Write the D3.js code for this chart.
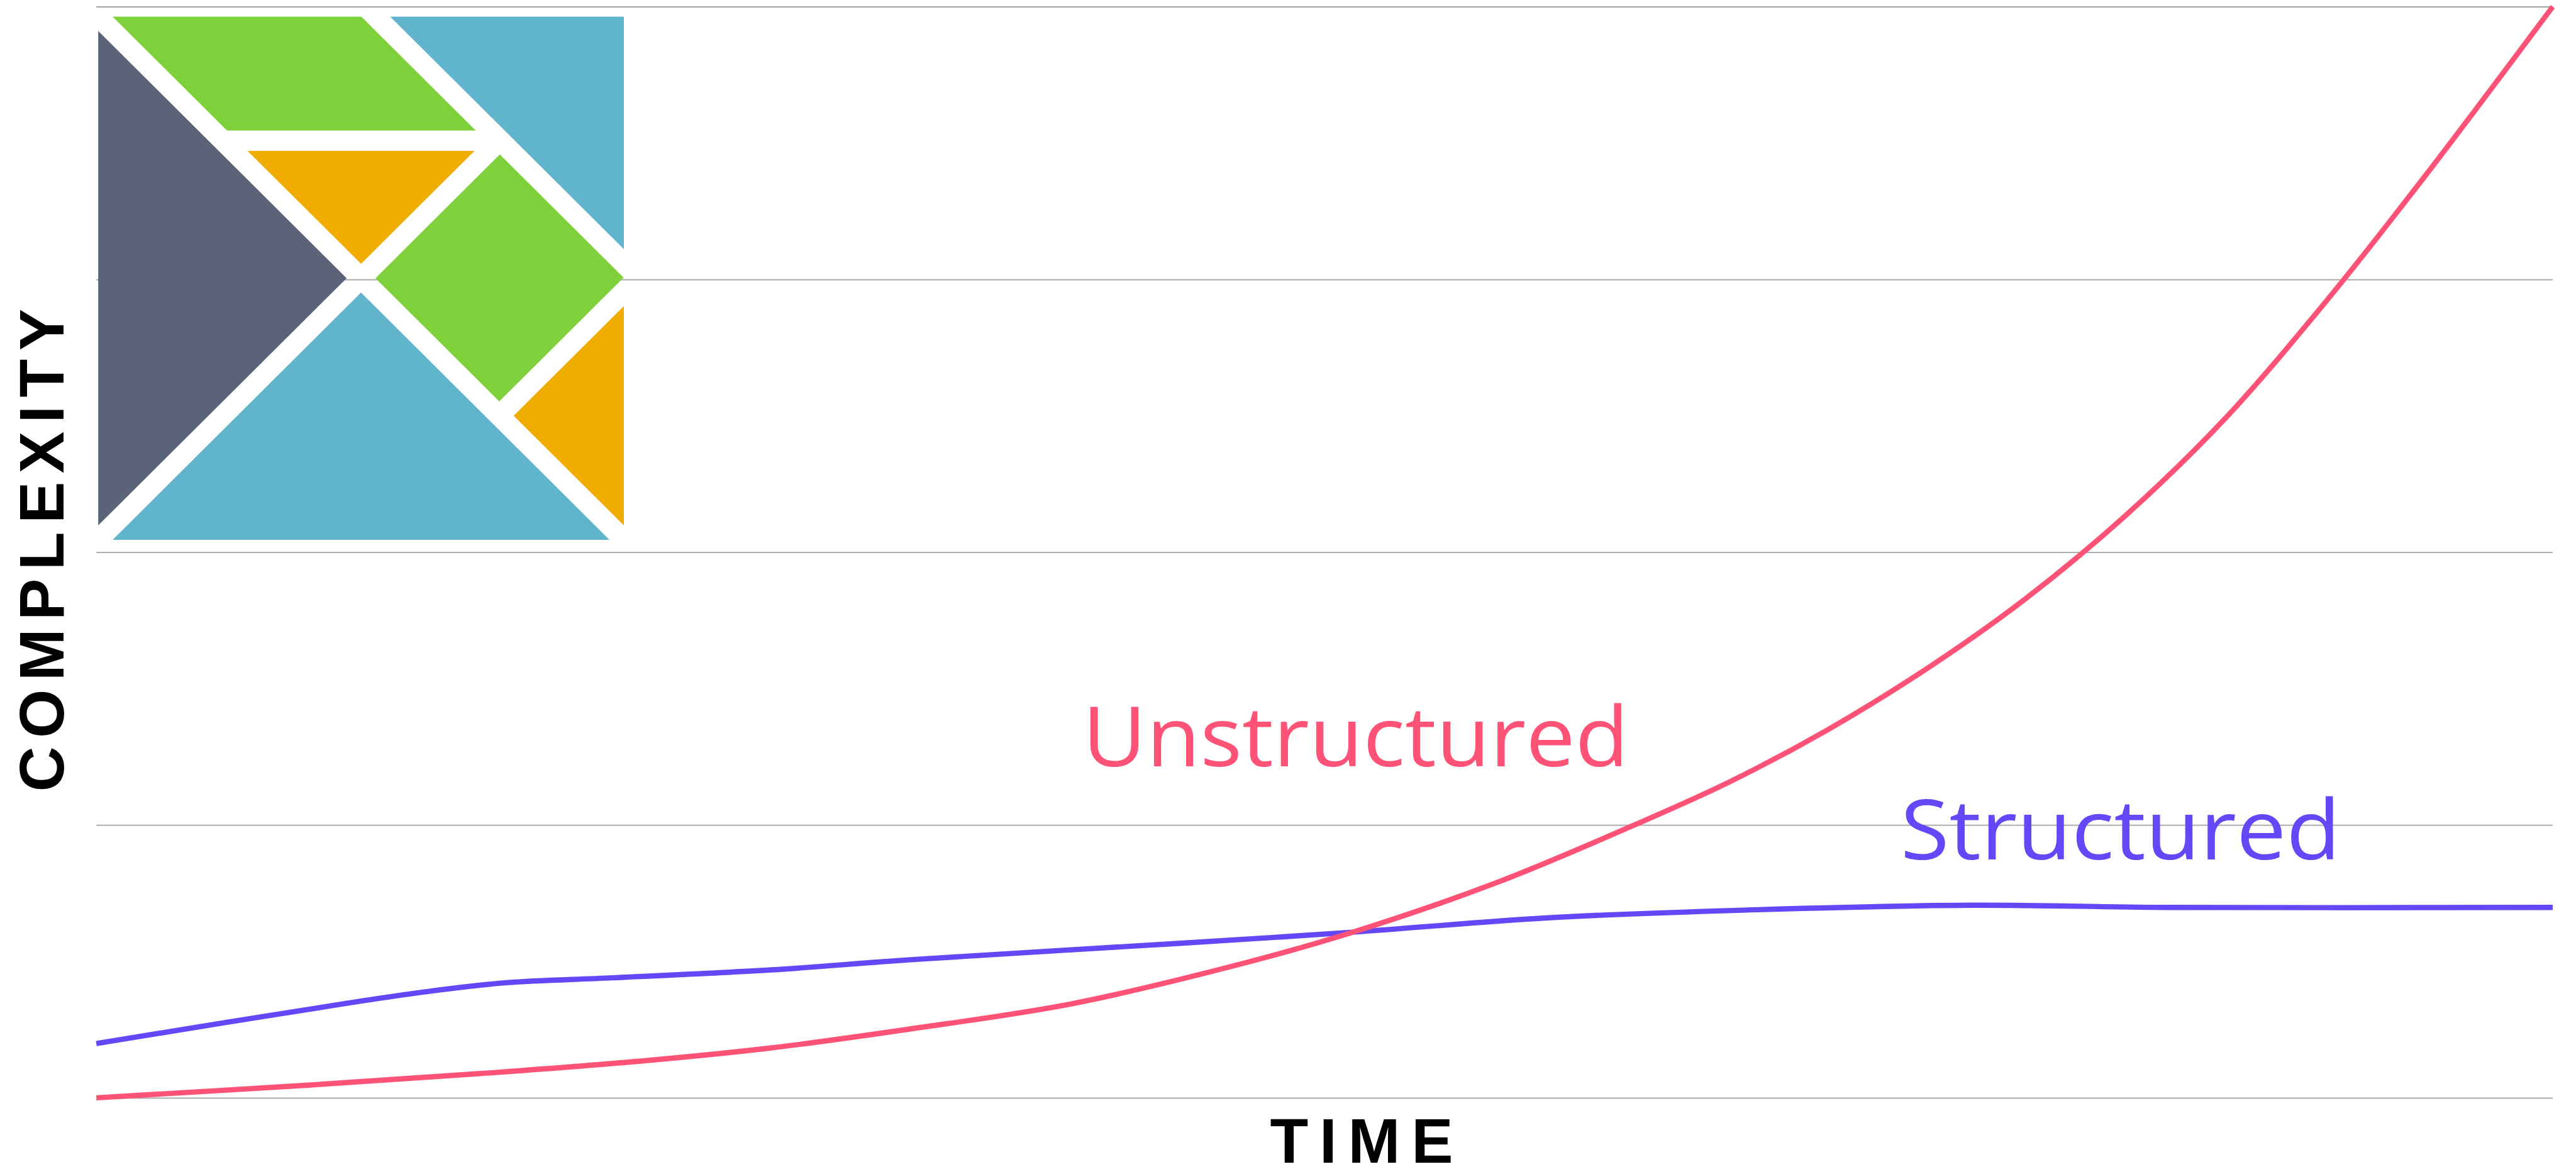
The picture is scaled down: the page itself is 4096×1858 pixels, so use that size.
<!DOCTYPE html>
<html><head><meta charset="utf-8">
<script src="https://cdn.jsdelivr.net/npm/d3@7"></script>
<style>html,body{margin:0;padding:0;background:#fff;overflow:hidden}</style>
</head><body>
<svg id="chart" width="4096" height="1858"></svg>
<script>
// ---- data (time 0..100, complexity in grid units 0..4) ----
const unstructuredTime   = [0, 8.72, 16.27, 22.08, 27.48, 33.25, 39.72, 46.18, 51.14, 56.95, 62.56, 66.46, 70.42, 74.48, 78.53, 82.59, 86.64, 90.70, 94.75, 100];
const unstructuredValues = [0.0, 0.047, 0.093, 0.134, 0.183, 0.254, 0.345, 0.481, 0.607, 0.787, 0.998, 1.157, 1.346, 1.571, 1.829, 2.133, 2.488, 2.912, 3.373, 4.0];
const structuredTime     = [0, 5.27, 10.23, 13.34, 16.69, 21.02, 27.48, 33.25, 44.02, 51.14, 59.11, 67.04, 76.30, 84.28, 100];
const structuredValues   = [0.199, 0.276, 0.347, 0.388, 0.422, 0.440, 0.469, 0.507, 0.566, 0.607, 0.660, 0.688, 0.706, 0.698, 0.698];
const gridTicks = [0, 1, 2, 3, 4];
const seriesNames = ["Unstructured", "Structured"];
const xAxisTitle = "TIME";
const yAxisTitle = "COMPLEXITY";

// ---- layout (reference pixel space, scaled to window) ----
const REF_W = 4655, K = 4096 / REF_W;
const colors = {Unstructured: "#ff5277", Structured: "#6547f7"};
const svg = d3.select("#chart");
const root = svg.append("g").attr("transform", `scale(${K})`);

const x = d3.scaleLinear().domain([0, 100]).range([174, 4613]);
const y = d3.scaleLinear().domain([0, 4]).range([1983, 12]);

// gridlines
const grid = root.append("g").attr("transform", `translate(${x(0)},0)`)
  .call(d3.axisLeft(y).tickValues(gridTicks).tickSize(-(x(100) - x(0))).tickFormat(""));
grid.select(".domain").remove();
grid.selectAll(".tick line").attr("stroke", "#a2a2a2").attr("stroke-width", 2);

// Elm tangram logo (decoration)
const logo = root.append("g").attr("transform", "translate(177.5,30) scale(2.938,2.923)");
const logoShapes = [
  ["#5A6378", "152.781,161.649 0,8.868 0,314.432"],
  ["#7FD13B", "8.867,0 79.241,70.375 232.213,70.375 161.838,0"],
  ["#60B5CC", "323.298,143.724 323.298,0 179.573,0"],
  ["#F0AD00", "161.649,152.782 231.514,82.916 91.783,82.916"],
  ["#7FD13B", "247.0,85.16 323.14,161.30 246.65,237.78 170.51,161.65"],
  ["#F0AD00", "255.522,246.655 323.298,314.432 323.298,178.879"],
  ["#60B5CC", "161.649,170.517 8.869,323.298 314.43,323.298"]
];
logo.selectAll("polygon").data(logoShapes).join("polygon")
  .attr("fill", d => d[0]).attr("points", d => d[1]);

// lines
const line = d3.line().x(d => x(d[0])).y(d => y(d[1])).curve(d3.curveCatmullRom.alpha(0.5));
const series = [
  {name: "Structured", pts: d3.zip(structuredTime, structuredValues)},
  {name: "Unstructured", pts: d3.zip(unstructuredTime, unstructuredValues)}
];
root.selectAll("path.series").data(series).join("path")
  .attr("class", "series")
  .attr("d", d => line(d.pts))
  .attr("fill", "none")
  .attr("stroke", d => colors[d.name])
  .attr("stroke-width", 9.5)
  .attr("stroke-linecap", "butt");

// series labels
const labelPos = {Unstructured: {t: 40.15, v: 1.216, len: 987}, Structured: {t: 73.45, v: 0.873, len: 795}};
root.selectAll("text.series-label").data(seriesNames).join("text")
  .attr("class", "series-label")
  .attr("x", d => x(labelPos[d].t))
  .attr("y", d => y(labelPos[d].v))
  .attr("fill", d => colors[d])
  .attr("font-family", "'Open Sans', sans-serif")
  .attr("font-weight", 400)
  .attr("font-size", 150)
  .attr("textLength", d => labelPos[d].len)
  .attr("lengthAdjust", "spacingAndGlyphs")
  .text(d => d);

// axis titles
root.append("text")
  .attr("x", 2295).attr("y", 2100)
  .attr("font-family", "'Liberation Sans', Arial, sans-serif")
  .attr("font-weight", 700).attr("font-size", 113)
  .attr("textLength", 331).attr("lengthAdjust", "spacing")
  .attr("fill", "#000")
  .text(xAxisTitle);

root.append("text")
  .attr("transform", "translate(115,1430) rotate(-90)")
  .attr("x", 0).attr("y", 0)
  .attr("font-family", "'Liberation Sans', Arial, sans-serif")
  .attr("font-weight", 700).attr("font-size", 113)
  .attr("textLength", 872).attr("lengthAdjust", "spacing")
  .attr("fill", "#000")
  .text(yAxisTitle);
</script>
</body></html>
